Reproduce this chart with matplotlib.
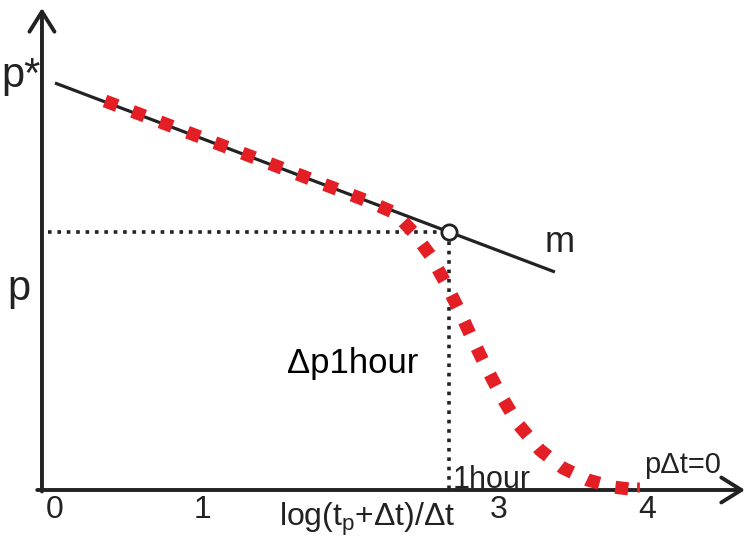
import matplotlib
matplotlib.use("Agg")
import matplotlib.pyplot as plt

plt.rcParams['font.family'] = ['Liberation Sans', 'DejaVu Sans']
plt.rcParams['mathtext.fontset'] = 'custom'
plt.rcParams['mathtext.rm'] = 'Liberation Sans'
plt.rcParams['mathtext.it'] = 'Liberation Sans:italic'

# ---- data (x: log time units, y: pressure units) ----
line_x = [0.0, 3.378]
line_y = [4.07, 2.18]

curve_x = [0.338, 0.980, 1.655, 2.128, 2.297, 2.419, 2.534, 2.635, 2.723,
           2.804, 2.899, 3.007, 3.128, 3.277, 3.432, 3.601, 3.770, 3.939]
curve_y = [3.89, 3.53, 3.15, 2.88, 2.77, 2.58, 2.35, 2.08, 1.82,
           1.56, 1.27, 0.96, 0.66, 0.40, 0.22, 0.10, 0.03, 0.0]

point_x = 2.662
point_y = 2.58
end_x = 3.939

tick_values = [0, 1, 3, 4]
tick_labels = ['0', '1', '3', '4']

dark = '#222222'
red = '#e31e24'

fig = plt.figure(figsize=(7.48, 5.37), dpi=100)
ax = fig.add_axes([0, 0, 1, 1])
ax.set_xlim(-0.3716, 4.6824)
ax.set_ylim(-0.47, 4.90)
ax.axis('off')

# axes with arrows
arrow_kw = dict(arrowstyle='->,head_length=1.44,head_width=0.9', lw=2.8,
                color=dark, shrinkA=0, shrinkB=0, mutation_scale=10)
ax.annotate('', xy=(-0.088, 4.82), xytext=(-0.088, -0.015), arrowprops=arrow_kw)
ax.annotate('', xy=(4.662, 0.0), xytext=(-0.12, 0.0), arrowprops=arrow_kw)

# solid straight line
ax.plot(line_x, line_y, color=dark, lw=2.3, solid_capstyle='butt', zorder=3)

# dotted guide lines
ax.plot([-0.05, point_x], [point_y, point_y], color=dark, lw=2.6,
        linestyle=(0, (1, 1.6)), dash_capstyle='butt', zorder=2)
ax.plot([point_x, point_x], [point_y, 0.0], color=dark, lw=2.6,
        linestyle=(0, (1, 1.6)), dash_capstyle='butt', zorder=2)

# red dashed curve
ax.plot(curve_x, curve_y, color=red, lw=9.4, linestyle=(0, (1, 1.25)),
        dash_capstyle='butt', solid_joinstyle='miter', zorder=4)
ax.plot([end_x], [0.03], marker='|', color=red, ms=7, mew=2, zorder=5)

# open circle
ax.plot([point_x], [point_y], 'o', ms=11, mfc='white', mec=dark, mew=2, zorder=6)

# labels
ax.text(-0.36, 4.03, 'p*', fontsize=30, color=dark, ha='left', va='baseline')
ax.text(-0.324, 1.90, 'p', fontsize=30, color=dark, ha='left', va='baseline')
ax.text(3.311, 2.38, 'm', fontsize=26, color=dark, ha='left', va='baseline')
ax.text(1.568, 1.17, 'Δp1hour', fontsize=25, color='black', ha='left', va='baseline')
ax.text(2.689, 0.02, '1hour', fontsize=22, color=dark, ha='left', va='baseline')
ax.text(3.98, 0.17, 'pΔt=0', fontsize=21, color=dark, ha='left', va='baseline')

for v, lab in zip(tick_values, tick_labels):
    ax.text(v, -0.28, lab, fontsize=23, color=dark, ha='center', va='baseline')

ax.text(2.108, -0.36, r'log(t$_{\mathrm{p}}$+Δt)/Δt', fontsize=23, color=dark,
        ha='center', va='baseline')

fig.savefig('out.png', dpi=100)
